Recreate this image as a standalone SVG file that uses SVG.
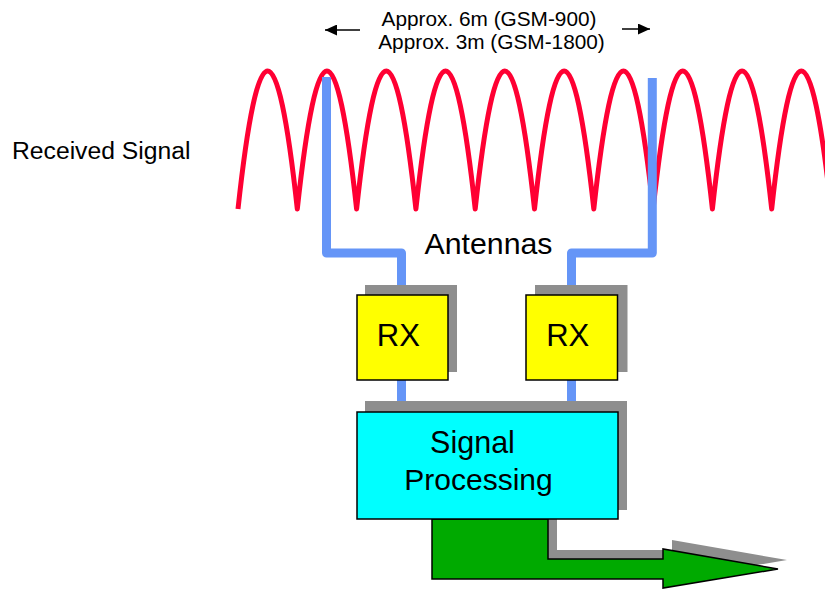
<svg xmlns="http://www.w3.org/2000/svg" width="825" height="593" viewBox="0 0 825 593">
<style>
  text { font-family: "Liberation Sans", Arial, sans-serif; fill: #000; }
  .wave { fill: none; stroke: #FF0033; stroke-width: 5; stroke-linejoin: round; }
  .ant { fill: none; stroke: #6595F7; stroke-width: 9; stroke-linejoin: round; }
  .shadow { fill: #8E8E8E; }
  .rx { fill: #FFFF00; stroke: #000; stroke-width: 1.5; }
  .sp { fill: #00FFFF; stroke: #000; stroke-width: 1.5; }
  .dim { stroke: #000; stroke-width: 1.5; fill: none; }
</style>
<defs>
  <marker id="ah" viewBox="0 0 12 11" refX="12" refY="5.5" markerWidth="12" markerHeight="11" markerUnits="userSpaceOnUse" orient="auto">
    <path d="M0,0 L12,5.5 L0,11 Z" fill="#000"/>
  </marker>
</defs>

<g id="dimension">
  <text x="489" y="25.5" font-size="20.8" text-anchor="middle">Approx. 6m (GSM-900)</text>
  <text x="491.5" y="48.5" font-size="20.8" text-anchor="middle">Approx. 3m (GSM-1800)</text>
  <line class="dim" x1="360" y1="30" x2="325" y2="30" marker-end="url(#ah)"/>
  <line class="dim" x1="622" y1="29" x2="650" y2="29" marker-end="url(#ah)"/>
</g>

<text x="12" y="158.5" font-size="24.7">Received Signal</text>

<path id="wave" class="wave" d="M238,209
  c20,-184 39.3,-184 59.3,0
  c20,-184 39.3,-184 59.3,0
  c20,-184 39.3,-184 59.3,0
  c20,-184 39.3,-184 59.3,0
  c20,-184 39.3,-184 59.3,0
  c20,-184 39.3,-184 59.3,0
  c20,-184 39.3,-184 59.3,0
  c20,-184 39.3,-184 59.3,0
  c20,-184 39.3,-184 59.3,0
  c20,-184 39.3,-184 59.3,0"/>

<g id="connectors">
  <path class="ant" d="M326.5,77 V253 H401.5 V300"/>
  <path class="ant" d="M652.3,78 V253 H571.5 V300"/>
  <path class="ant" d="M401.5,375 V415"/>
  <path class="ant" d="M571.5,375 V415"/>
</g>

<text x="488.5" y="253.5" font-size="30.3" text-anchor="middle">Antennas</text>

<g id="output-arrow">
  <polygon class="shadow" points="441,510 557,510 557,550 672,550 672,540 787,560 672,579 441,579"/>
  <polygon points="432,519 548,519 548,559 663,559 663,549 778,569 663,588 663,579 432,579" fill="#00AA00" stroke="#000" stroke-width="1.5"/>
</g>

<g id="rx1">
  <rect class="shadow" x="365" y="285" width="92" height="87"/>
  <rect class="rx" x="357" y="295" width="91" height="85"/>
  <text x="398.3" y="346" font-size="31" text-anchor="middle">RX</text>
</g>

<g id="rx2">
  <rect class="shadow" x="535" y="285" width="92.5" height="87"/>
  <rect class="rx" x="526" y="295" width="91.5" height="85"/>
  <text x="567.7" y="346" font-size="31" text-anchor="middle">RX</text>
</g>

<g id="signal-processing">
  <rect class="shadow" x="365" y="401" width="262" height="109"/>
  <rect class="sp" x="357" y="412" width="261" height="107"/>
  <text x="472.5" y="453" font-size="30.5" text-anchor="middle">Signal</text>
  <text x="478.5" y="490" font-size="30" text-anchor="middle">Processing</text>
</g>
</svg>
